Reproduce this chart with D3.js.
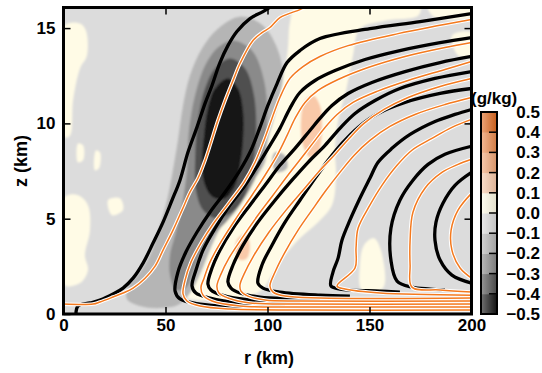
<!DOCTYPE html>
<html>
<head>
<meta charset="utf-8">
<script src="https://cdn.jsdelivr.net/npm/d3@7"></script>
<style>
  body { margin: 0; background: #fff; }
  svg text { font-family: "Liberation Sans", Arial, sans-serif; font-weight: bold; fill: #000; }
</style>
</head>
<body>
<svg id="chart" width="542" height="373"></svg>
<script>
// axis ticks and colorbar
const rTicks = [0, 50, 100, 150, 200];
const zTicks = [0, 5, 10, 15];
const cbValues = [-0.5, -0.4, -0.3, -0.2, -0.1, 0, 0.1, 0.2, 0.3, 0.4, 0.5];
const cbLabels = ["\u22120.5", "\u22120.4", "\u22120.3", "\u22120.2", "\u22120.1", "0.0", "0.1", "0.2", "0.3", "0.4", "0.5"];
const cbColors = ["#141414", "#505050", "#8a8a8a", "#b5b5b5", "#dcdcdc",
                  "#fffbe6", "#f9c9a9", "#f3a676", "#ec8a4c", "#e0691f"];

// shaded field, [r (km), z (km)] outlines, band index into cbColors
const grayOuter = [[86.5,15.6],[97.3,15.18],[104.2,14.08],[107.6,12.51],[104.2,10.68],[100.2,9.11],[98.8,7.96],[91.4,6.75],[84.1,5.71],[77.7,4.66],[72.8,3.61],[68.9,2.57],[64.9,1.62],[61,0.94],[56.1,0.47],[47.3,0.31],[37.5,0.42],[31.1,0.79],[31.6,1.41],[37.5,2.2],[42.4,3.09],[46.3,4.29],[50.2,5.71],[53.2,7.28],[56.1,9.11],[58.6,10.94],[62,12.51],[67.9,13.93],[75.7,14.97]];
const grayPatch = [[103.7,8.48],[108.6,8.32],[109.6,7.64],[104.7,7.43],[102.2,7.91]];
const grayMid = [[83.1,14.35],[92.4,13.82],[98.3,12.25],[99.8,10.16],[97.3,8.06],[92.4,6.75],[86.5,5.71],[79.7,4.82],[71.8,3.98],[66.9,3.09],[63.5,2.2],[60,1.36],[55.1,1.26],[52.2,2.04],[52.2,3.09],[54.7,4.14],[58.1,5.71],[60.5,7.54],[61.5,9.63],[64.5,11.47],[69.4,13.04],[75.7,13.98]];
const grayDark = [[81.6,13.4],[89,12.88],[93.4,11.47],[94.4,9.37],[92.4,7.54],[89,6.23],[82.6,5.34],[74.3,5.03],[68.4,5.45],[64.9,6.49],[64.5,8.06],[65.9,10.16],[69.4,11.83],[74.3,12.88]];
const grayCore = [[80.6,12.36],[85.5,11.83],[88,10.68],[88,9.11],[86.5,7.8],[84.1,6.75],[79.2,6.07],[73.3,6.13],[69.4,6.75],[67.9,7.8],[68.9,9.37],[70.8,10.79],[74.3,11.83]];
const creamMain = [[60,0.89],[59.1,1.52],[62,2.72],[66.9,3.87],[74.3,5.08],[82.6,6.18],[90.4,7.23],[96.3,8.48],[100.2,9.74],[103.7,11.05],[107.6,12.36],[110,13.93],[111,15.29],[114,16.1],[174.8,16.1],[173.8,15.65],[157.6,15.39],[145.3,14.97],[141.9,13.56],[138.5,11.73],[134.6,10.16],[133.1,8.59],[133.6,7.28],[131.6,5.71],[124.8,4.82],[115.9,3.98],[108.6,3.09],[102.2,2.04],[97.3,1.26],[89,0.89],[74.3,0.73]];
const creamTopRight = [[178.7,16.1],[200,16.1],[200,15.6],[191.9,15.44],[182.1,15.55]];
const creamRightEdge = [[190.4,14.61],[200,14.76],[200,13.4],[193.4,13.56]];
const creamColumn = [[147.3,3.61],[152.2,3.98],[155.6,3.35],[156.6,1.36],[146.3,1.26],[145.3,2.57]];
const creamLeftTop = [[0.5,15.13],[8.1,15.24],[11,14.87],[11.5,13.56],[8.1,12.88],[4.7,11.2],[3.2,9.37],[0.5,9.27]];
const creamLeftA = [[7.1,8.95],[9.6,8.85],[9.6,8.06],[7.1,7.96]];
const creamLeftB = [[15.9,8.59],[17.9,8.48],[17.4,7.64],[15.4,7.54]];
const creamLeftLow = [[0.5,6.13],[7.1,6.23],[12,5.71],[13,4.4],[10.5,3.09],[12,2.3],[8.1,1.62],[0.5,1.52]];
const creamLeftC = [[21.8,5.97],[27.7,6.07],[29.2,5.45],[23.8,5.18]];
const salmonUpper = [[118.4,11.2],[122.3,11.47],[125.7,10.94],[126.7,9.63],[124.8,8.48],[120.8,8.22],[117.4,8.85],[116.4,10.16]];
const salmonLower = [[85.5,3.98],[89.5,4.19],[91.4,3.61],[90,2.93],[86.5,2.83],[84.1,3.35]];

const fieldRegions = [
  { band: 5, pts: creamMain }, { band: 5, pts: creamTopRight }, { band: 5, pts: creamRightEdge },
  { band: 5, pts: creamColumn }, { band: 5, pts: creamLeftTop }, { band: 5, pts: creamLeftA },
  { band: 5, pts: creamLeftB }, { band: 5, pts: creamLeftLow }, { band: 5, pts: creamLeftC },
  { band: 6, pts: salmonUpper }, { band: 6, pts: salmonLower },
  { band: 3, pts: grayOuter }, { band: 3, pts: grayPatch },
  { band: 2, pts: grayMid }, { band: 1, pts: grayDark }, { band: 0, pts: grayCore }
];

// black contours, [r, z]
const black1 = [[6.1,0],[7.1,0.42],[13,0.58],[17.9,0.73],[24.3,1.05],[29.2,1.36],[34.1,1.88],[39,2.67],[43.9,3.72],[48.8,4.82],[53.2,5.97],[57.1,7.02],[61,8.48],[65.4,9.79],[69.4,11.05],[72.8,11.99],[76.7,13.19],[80.6,14.08],[85,14.82],[91.4,15.5],[97.8,15.86],[101.2,16.1]];
const black2 = [[96.3,0.31],[86.5,0.37],[66.9,0.52],[57.1,0.79],[54.7,1.2],[56.1,2.2],[60,3.25],[65.4,4.29],[71.8,5.34],[79.2,6.39],[86.5,7.54],[91.9,8.59],[96.3,9.79],[100.2,10.94],[104.7,12.09],[109.6,13.19],[115.9,13.82],[125.7,14.45],[150.2,14.97],[174.8,15.34],[200,15.76]];
const black3 = [[108.6,0.47],[86.5,0.58],[71.8,0.84],[64.9,1.1],[63,1.47],[64.9,2.3],[68.4,3.35],[74.3,4.5],[81.6,5.71],[89,6.75],[95.3,7.8],[101.2,8.85],[106.1,9.74],[111,10.79],[115.9,11.62],[123.3,12.25],[133.1,12.77],[147.8,13.35],[164.9,13.82],[184.6,14.24],[200,14.5]];
const black4 = [[115.9,0.63],[91.4,0.73],[77.7,0.99],[72.3,1.26],[70.8,1.57],[72.8,2.41],[76.7,3.35],[83.1,4.5],[91.4,5.71],[98.8,6.75],[106.1,7.8],[113.5,8.69],[120.8,9.63],[125.7,10.26],[131.6,10.94],[139.5,11.57],[151.2,12.15],[167.4,12.72],[184.6,13.19],[200,13.51]];
const black5 = [[125.7,0.79],[96.3,0.89],[86.5,1.1],[82.1,1.36],[80.6,1.68],[83.1,2.57],[88,3.61],[95.3,4.82],[103.7,5.97],[112,7.02],[119.9,7.96],[128.2,8.85],[135.5,9.74],[142.9,10.52],[152.7,11.2],[164.9,11.83],[182.1,12.36],[200,12.72]];
const black6 = [[140.4,0.94],[125.7,0.99],[106.1,1.15],[97.8,1.36],[95.3,1.62],[97.3,2.57],[102.2,3.61],[108.6,4.82],[115.9,5.97],[123.3,7.12],[129.7,8.06],[136.5,8.95],[144.4,9.79],[154.2,10.52],[167.4,11.1],[184.6,11.57],[200,11.83]];
const black7 = [[164.9,1.15],[155.1,1.2],[135.5,1.31],[131.1,1.47],[132.1,2.2],[134.6,2.93],[136.5,3.87],[140.4,4.92],[145.3,6.07],[150.2,7.12],[154.2,7.96],[161,8.69],[169.9,9.42],[182.1,10.1],[191.9,10.47],[200,10.73]];
const black8 = [[187,1.26],[179.7,1.31],[170.8,1.41],[163.5,1.73],[160.5,2.83],[160.5,4.5],[164.9,5.97],[171.3,7.02],[178.7,7.85],[187,8.38],[200,8.8]];
const black9 = [[200,7.43],[191.9,6.75],[186,5.81],[182.6,4.82],[182.1,3.87],[184.6,2.83],[190.4,2.04],[200,1.62]];

// orange contours, [r, z]
const orange1 = [[0,0.52],[14.5,0.52],[17.9,0.63],[24.3,0.89],[29.2,1.1],[34.1,1.36],[40,1.88],[44.9,2.51],[48.8,3.35],[53.7,4.4],[58.1,5.45],[62,6.39],[65.9,7.12],[68.9,7.91],[72.3,9.01],[75.7,10.16],[79.2,11.2],[83.1,12.25],[86.5,13.14],[92.9,14.35],[97.3,14.76],[101.2,15.03],[106.1,15.55],[115.9,15.97],[118.4,16.1]];
const orange2 = [[200,0.21],[115.9,0.21],[81.6,0.26],[66.9,0.42],[60.5,0.68],[58.6,1.05],[59.6,1.78],[62.5,2.72],[67.4,3.72],[73.3,4.71],[80.6,5.76],[88.5,6.91],[93.9,7.96],[98.3,9.11],[102.2,10.26],[106.1,11.36],[111,12.36],[117.4,12.98],[125.7,13.51],[139.5,14.08],[164,14.71],[200,15.45]];
const orange3 = [[200,0.37],[115.9,0.37],[86.5,0.42],[72.8,0.68],[68.4,0.99],[67.4,1.41],[68.9,1.88],[71.8,2.72],[77.7,3.87],[85,5.08],[92.4,6.23],[98.8,7.28],[104.7,8.32],[109.6,9.37],[113.5,10.26],[118.4,11.1],[124.8,11.73],[134.6,12.3],[149.3,12.93],[167.4,13.51],[187,13.98],[200,14.24]];
const orange4 = [[200,0.52],[115.9,0.52],[91.4,0.58],[80.6,0.84],[76.2,1.1],[75.2,1.47],[77.2,2.09],[81.1,2.93],[87.5,3.98],[95.3,5.18],[102.7,6.23],[110,7.28],[116.9,8.22],[123.3,9.11],[128.2,9.79],[134.1,10.47],[141.9,11.1],[153.7,11.68],[168.9,12.25],[187,12.83],[200,13.25]];
const orange5 = [[200,0.68],[115.9,0.68],[98.8,0.73],[90.4,0.94],[87,1.2],[86.5,1.52],[88.5,2.09],[93.4,3.09],[100.7,4.29],[109.1,5.45],[117.4,6.49],[124.8,7.43],[132.6,8.32],[140,9.21],[147.3,10],[157.1,10.73],[168.9,11.36],[184.6,11.94],[200,12.36]];
const orange6 = [[200,0.84],[125.7,0.84],[108.6,0.94],[102.7,1.15],[101.2,1.47],[103.7,2.2],[108.6,3.25],[115,4.4],[121.8,5.45],[128.7,6.49],[135.5,7.43],[142.4,8.32],[150.2,9.11],[160,9.84],[172.3,10.47],[187,10.99],[200,11.36]];
const orange7 = [[200,0.99],[155.1,1.1],[138,1.31],[134.1,1.47],[142.9,2.41],[143.4,3.46],[144.4,4.5],[150.2,5.71],[156.1,6.75],[163.5,7.8],[170.8,8.59],[180.6,9.21],[190.4,9.79],[200,10.21]];
const orange8 = [[200,1.15],[184.6,1.26],[170.8,1.41],[169.9,2.57],[169.9,3.87],[171.3,5.34],[177.2,6.6],[185.5,7.43],[193.4,7.85],[200,8.12]];
const orange9 = [[200,6.33],[193.4,5.45],[190,4.4],[190.4,3.35],[194.4,2.41],[200,1.88]];

const blackLines = [black1, black2, black3, black4, black5, black6, black7, black8, black9];
const orangeLines = [orange1, orange2, orange3, orange4, orange5, orange6, orange7, orange8, orange9];

const svg = d3.select("#chart");
const x = d3.scaleLinear().domain([0, 200]).range([63.5, 471.5]);
const y = d3.scaleLinear().domain([0, 16.08]).range([314, 7.5]);

const defs = svg.append("defs");
defs.append("clipPath").attr("id", "plot-clip")
  .append("rect")
  .attr("x", x(0)).attr("y", y(16.08))
  .attr("width", x(200) - x(0)).attr("height", y(0) - y(16.08));
defs.append("filter").attr("id", "soft")
  .append("feGaussianBlur").attr("stdDeviation", 1.2);

// background band (-0.1 .. 0)
svg.append("rect")
  .attr("x", x(0)).attr("y", y(16.08))
  .attr("width", x(200) - x(0)).attr("height", y(0) - y(16.08))
  .attr("fill", cbColors[4]);

const areaPath = d3.line()
  .x((d) => x(d[0])).y((d) => y(d[1]))
  .curve(d3.curveCatmullRomClosed.alpha(0.5));

svg.append("g").attr("clip-path", "url(#plot-clip)")
  .append("g").attr("filter", "url(#soft)")
  .selectAll("path")
  .data(fieldRegions)
  .join("path")
  .attr("d", (d) => areaPath(d.pts))
  .attr("fill", (d) => cbColors[d.band]);

const linePath = d3.line()
  .x((d) => x(d[0])).y((d) => y(d[1]))
  .curve(d3.curveCatmullRom.alpha(0.5));

const lines = svg.append("g").attr("clip-path", "url(#plot-clip)")
  .attr("fill", "none").attr("stroke-linejoin", "round");

lines.selectAll("path.black")
  .data(blackLines)
  .join("path")
  .attr("class", "black")
  .attr("d", linePath)
  .attr("stroke", "#000")
  .attr("stroke-width", 3.3);

lines.selectAll("path.halo")
  .data(orangeLines)
  .join("path")
  .attr("class", "halo")
  .attr("d", linePath)
  .attr("stroke", "#fff")
  .attr("stroke-width", 3.6);

lines.selectAll("path.orange")
  .data(orangeLines)
  .join("path")
  .attr("class", "orange")
  .attr("d", linePath)
  .attr("stroke", "#f47a1f")
  .attr("stroke-width", 1.5);

// axes, ticks pointing inward
function styleAxis(g) {
  g.select(".domain").remove();
  g.attr("font-family", null).attr("font-size", 17);
  g.selectAll("line").attr("stroke", "#000").attr("stroke-width", 1.5);
}

svg.append("g")
  .attr("transform", `translate(0,${y(0)})`)
  .call(d3.axisBottom(x).tickValues(rTicks).tickSizeInner(-7).tickSizeOuter(0).tickPadding(5))
  .call(styleAxis);

svg.append("g")
  .attr("transform", `translate(${x(0)},0)`)
  .call(d3.axisLeft(y).tickValues(zTicks).tickSizeInner(-7).tickSizeOuter(0).tickPadding(8))
  .call(styleAxis);

svg.append("g")
  .attr("transform", `translate(0,${y(16.08)})`)
  .call(d3.axisTop(x).tickValues([50, 100, 150]).tickSizeInner(-7).tickSizeOuter(0).tickFormat(""))
  .call(styleAxis);

svg.append("g")
  .attr("transform", `translate(${x(200)},0)`)
  .call(d3.axisRight(y).tickValues([5, 10, 15]).tickSizeInner(-7).tickSizeOuter(0).tickFormat(""))
  .call(styleAxis);

svg.append("rect")
  .attr("x", x(0)).attr("y", y(16.08))
  .attr("width", x(200) - x(0)).attr("height", y(0) - y(16.08))
  .attr("fill", "none").attr("stroke", "#000").attr("stroke-width", 3);

svg.append("text")
  .attr("x", 269).attr("y", 364)
  .attr("text-anchor", "middle")
  .style("font-size", "18px")
  .text("r (km)");

svg.append("text")
  .attr("transform", "translate(27,161) rotate(-90)")
  .attr("text-anchor", "middle")
  .style("font-size", "18px")
  .text("z (km)");

// colorbar
const cb = d3.scaleLinear().domain([-0.5, 0.5]).range([314, 112]);
const cbX = 481, cbW = 16;

cbColors.forEach((c, i) => {
  const grad = defs.append("linearGradient").attr("id", "cb-grad-" + i)
    .attr("x1", 0).attr("x2", 1).attr("y1", 0).attr("y2", 0);
  grad.append("stop").attr("offset", 0).attr("stop-color", d3.interpolateRgb(c, "#fff")(0.4));
  grad.append("stop").attr("offset", 1).attr("stop-color", d3.color(c).darker(0.35));
});

const bands = cbColors.map((c, i) => ({ lo: cbValues[i], hi: cbValues[i + 1], i }));

svg.append("g")
  .selectAll("rect")
  .data(bands)
  .join("rect")
  .attr("x", cbX)
  .attr("y", (d) => cb(d.hi))
  .attr("width", cbW)
  .attr("height", (d) => cb(d.lo) - cb(d.hi) + 0.5)
  .attr("fill", (d) => `url(#cb-grad-${d.i})`);

svg.append("g")
  .selectAll("line")
  .data(cbValues.slice(1, -1))
  .join("line")
  .attr("x1", cbX + cbW - 8).attr("x2", cbX + cbW)
  .attr("y1", (d) => cb(d)).attr("y2", (d) => cb(d))
  .attr("stroke", "#000").attr("stroke-width", 1.5);

svg.append("rect")
  .attr("x", cbX).attr("y", cb(0.5))
  .attr("width", cbW).attr("height", cb(-0.5) - cb(0.5))
  .attr("fill", "none").attr("stroke", "#000").attr("stroke-width", 2);

svg.append("g")
  .selectAll("text")
  .data(cbValues)
  .join("text")
  .attr("x", 540)
  .attr("y", (d) => cb(d))
  .attr("dy", "0.35em")
  .attr("text-anchor", "end")
  .style("font-size", "17px")
  .text((d, i) => cbLabels[i]);

svg.append("text")
  .attr("x", 471).attr("y", 104)
  .style("font-size", "17px")
  .text("(g/kg)");
</script>
</body>
</html>
